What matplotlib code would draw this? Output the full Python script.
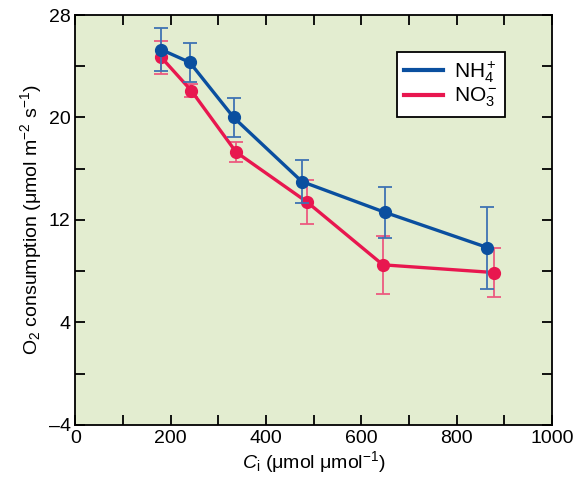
import numpy as np
import matplotlib.pyplot as plt
from matplotlib.ticker import MultipleLocator
from matplotlib.lines import Line2D

# data
nh4_x = [180, 240, 332, 475, 649, 864]
nh4_y = [25.3, 24.3, 20.0, 15.0, 12.6, 9.85]
nh4_err = [1.7, 1.5, 1.55, 1.65, 2.0, 3.2]

no3_x = [180, 243, 337, 486, 645, 877]
no3_y = [24.7, 22.1, 17.3, 13.4, 8.5, 7.9]
no3_err = [1.3, 0.5, 0.8, 1.7, 2.25, 1.95]

plt.rcParams['font.family'] = ['Liberation Sans', 'DejaVu Sans']
plt.rcParams['mathtext.fontset'] = 'custom'
plt.rcParams['mathtext.rm'] = 'Liberation Sans'
plt.rcParams['mathtext.it'] = 'Liberation Sans:italic'
plt.rcParams['axes.unicode_minus'] = True

blue = '#0a4f9f'
red = '#e8174f'

fig = plt.figure(figsize=(5.8, 4.84), dpi=100)
ax = fig.add_axes([0.130, 0.122, 0.822, 0.847])
ax.set_facecolor('#e3edd0')

ax.errorbar(nh4_x, nh4_y, yerr=nh4_err, color=blue, ecolor='#3f73b3',
            elinewidth=1.3, capsize=5, capthick=1.3, lw=2.4,
            marker='o', ms=8.5, zorder=3)
ax.errorbar(no3_x, no3_y, yerr=no3_err, color=red, ecolor='#ec5a80',
            elinewidth=1.3, capsize=5, capthick=1.3, lw=2.4,
            marker='o', ms=8.5, zorder=2)

ax.set_xlim(0, 1000)
ax.set_ylim(-4, 28)
ax.set_xticks([0, 200, 400, 600, 800, 1000])
ax.xaxis.set_minor_locator(MultipleLocator(100))
ax.set_yticks([-4, 4, 12, 20, 28])
ax.set_yticklabels(['\u20134', '4', '12', '20', '28'])
ax.yaxis.set_minor_locator(MultipleLocator(4))
ax.tick_params(which='both', direction='in', length=7, width=1.3,
               top=True, right=True, labelsize=14)
for s in ax.spines.values():
    s.set_linewidth(1.3)

ax.set_xlabel(r'$C_{\mathrm{i}}$ ($\mathrm{\mu}$mol $\mathrm{\mu}$mol$^{\mathrm{-1}}$)',
              fontsize=14, labelpad=2)
ax.set_ylabel(r'O$_2$ consumption ($\mathrm{\mu}$mol m$^{-2}$ s$^{-1}$)',
              fontsize=14, labelpad=3)

h = [Line2D([], [], color=blue, lw=3), Line2D([], [], color=red, lw=3)]
l = ['NH$_4^+$', 'NO$_3^-$']
leg = ax.legend(h, l, loc='upper right', bbox_to_anchor=(0.901, 0.910),
                borderaxespad=0, fontsize=15, fancybox=False, framealpha=1,
                edgecolor='black', handlelength=1.9, handletextpad=0.5,
                borderpad=0.35, labelspacing=0.05)
leg.get_frame().set_linewidth(1.3)

fig.savefig('out.png', dpi=100)
